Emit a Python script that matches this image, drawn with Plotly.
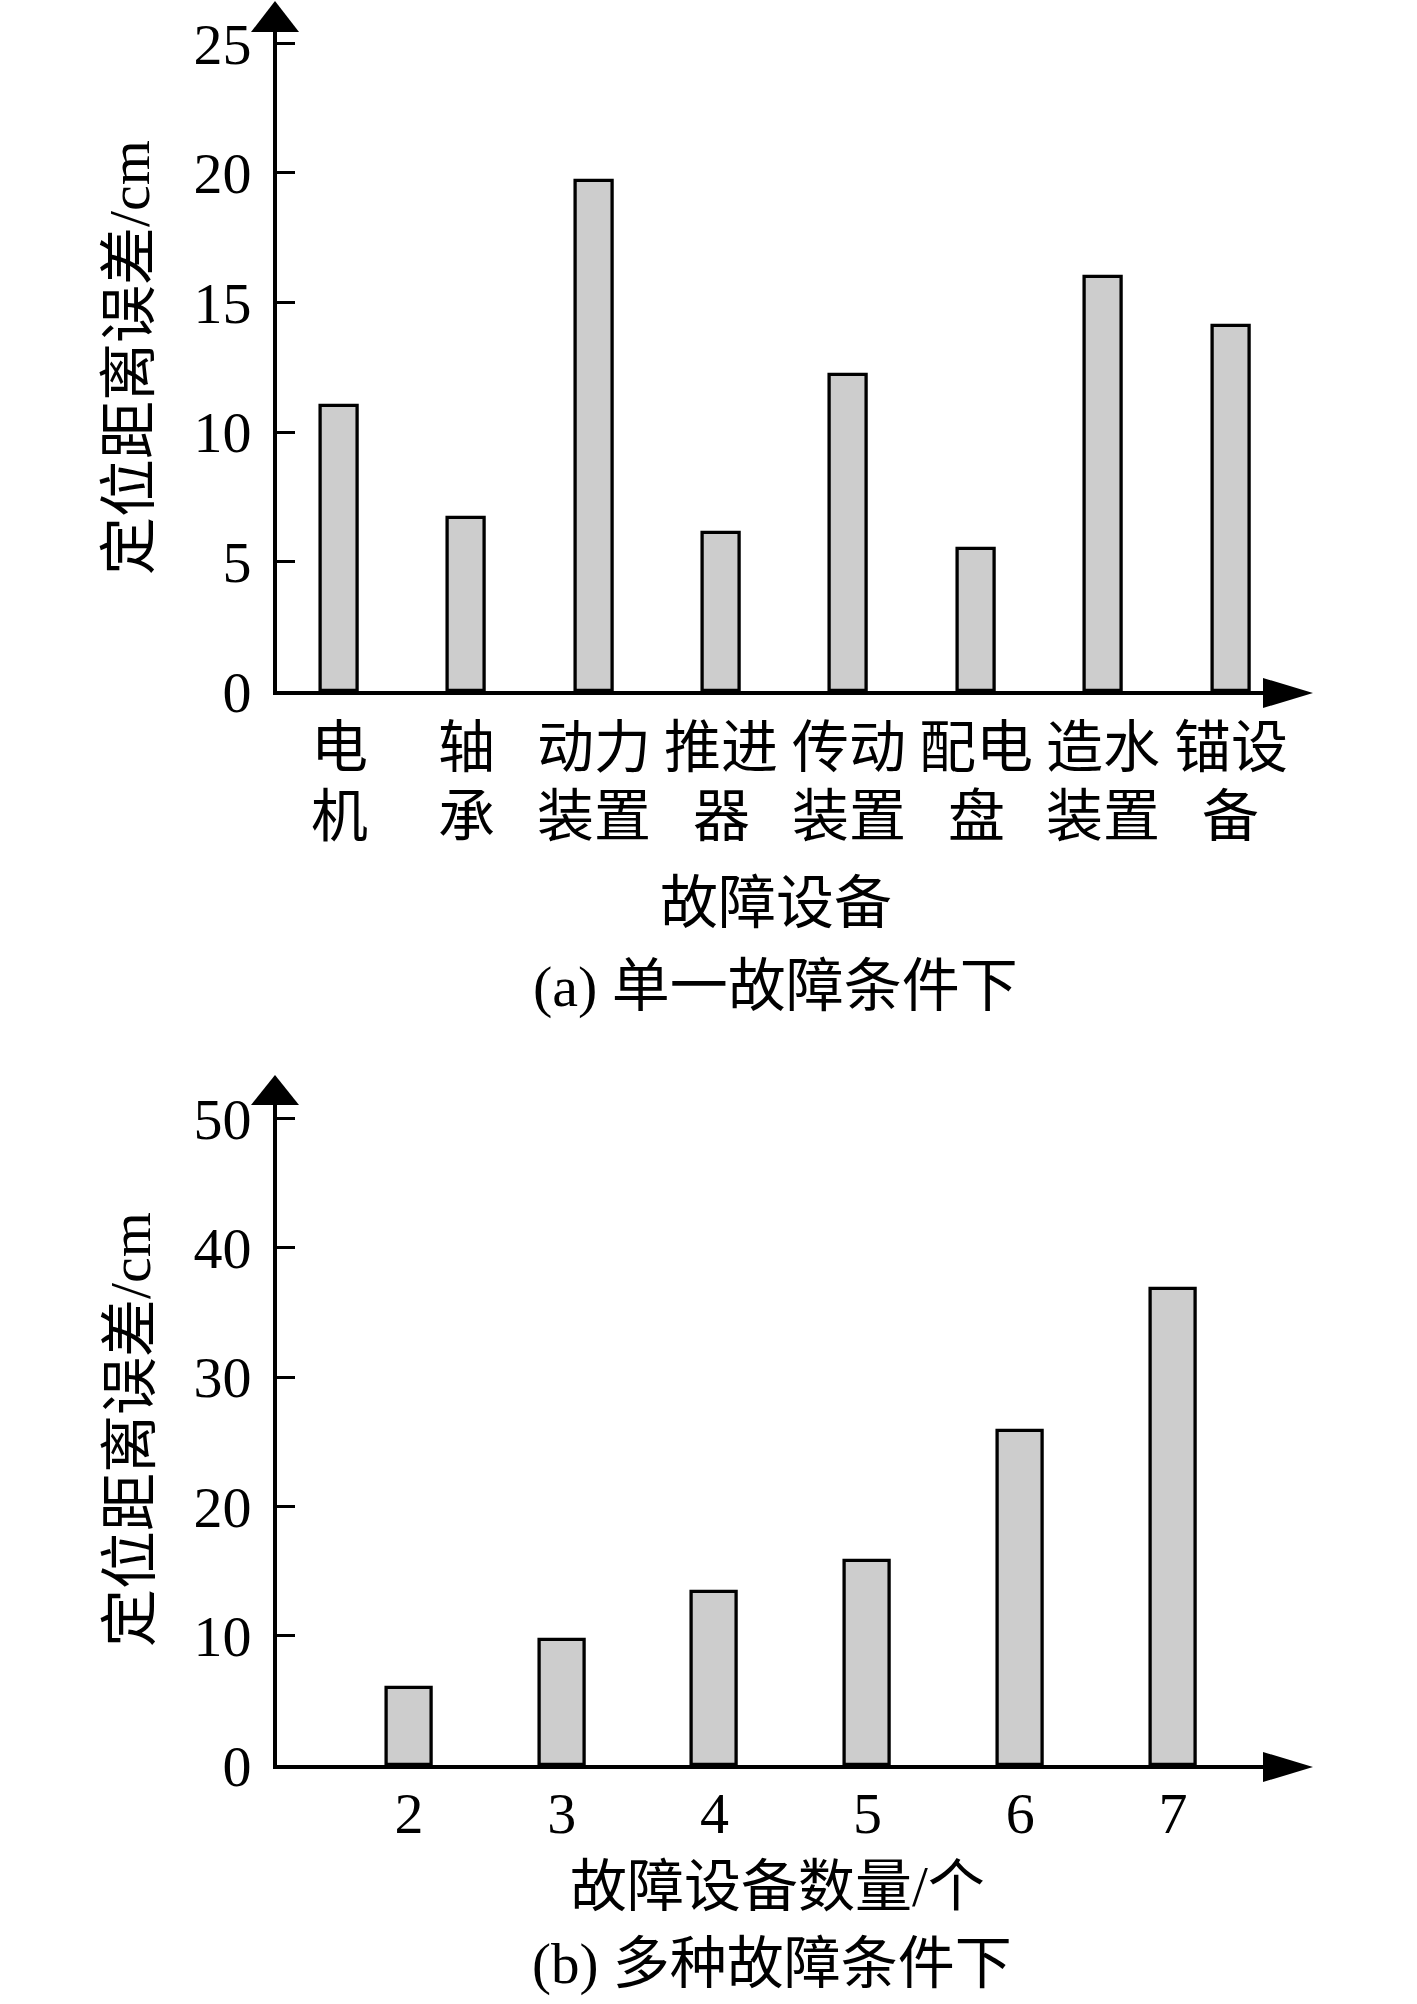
import plotly.graph_objects as go

W, H = 1417, 2004

# ---- data ----
cats_a = ["电机", "轴承", "动力装置", "推进器", "传动装置", "配电盘", "造水装置", "锚设备"]
cat_line1 = ["电", "轴", "动力", "推进", "传动", "配电", "造水", "锚设"]
cat_line2 = ["机", "承", "装置", "器", "装置", "盘", "装置", "备"]
vals_a = [11.0, 6.7, 19.7, 6.1, 12.2, 5.5, 16.0, 14.1]
yticks_a = [0, 5, 10, 15, 20, 25]

counts_b = [2, 3, 4, 5, 6, 7]
vals_b = [6.0, 9.7, 13.4, 15.8, 25.8, 36.8]
yticks_b = [0, 10, 20, 30, 40, 50]

title_y = "定位距离误差/cm"
xtitle_a = "故障设备"
caption_a = "(a) 单一故障条件下"
xtitle_b = "故障设备数量/个"
caption_b = "(b) 多种故障条件下"

# ---- styling / layout helpers (pixel -> paper) ----
FONT = "Liberation Serif, Times New Roman, Noto Sans CJK SC, serif"
BAR_FILL = "#cdcdcd"
LW = 3.5
HL = LW / 2


def px(x):
    return x / W


def py(y):
    return 1 - y / H


AX_L, AX_R = 275, 1265        # axis line position / extent (pixels)
ARROW_TIP_X = 1313

# panel a geometry
A_BASE, A_TOP = 693, 30
A_UNIT = 25.92                # px per cm
A_CAT0, A_CATSTEP = 339, 127.4
# panel b geometry
B_BASE, B_TOP = 1767, 1103
B_UNIT = 12.94
B_X0, B_STEP = 409, 152.8

DL = AX_L + HL                # domain left edge (axis line drawn outside)

fig = go.Figure()

fig.add_trace(go.Bar(
    x=cats_a, y=vals_a, width=0.29,
    marker=dict(color=BAR_FILL, line=dict(color="black", width=3.3)),
    xaxis="x", yaxis="y", showlegend=False, hoverinfo="skip"))

fig.add_trace(go.Bar(
    x=counts_b, y=vals_b, width=0.295,
    marker=dict(color=BAR_FILL, line=dict(color="black", width=3.3)),
    xaxis="x2", yaxis="y2", showlegend=False, hoverinfo="skip"))

common_x = dict(showline=True, linewidth=LW, linecolor="black", ticks="",
                showgrid=False, zeroline=False, automargin=False,
                tickfont=dict(family=FONT, size=58, color="black"))
common_y = dict(showline=True, linewidth=LW, linecolor="black", ticks="inside",
                ticklen=18, tickwidth=3, tickcolor="black",
                showgrid=False, zeroline=False, automargin=False,
                tickfont=dict(family=FONT, size=58, color="black"),
                ticklabelstandoff=10)

fig.update_layout(
    width=W, height=H, autosize=False,
    margin=dict(l=0, r=0, t=0, b=0),
    paper_bgcolor="white", plot_bgcolor="white",
    bargap=0,
    xaxis=dict(common_x, domain=[px(DL), px(AX_R)], anchor="y",
               type="category", categoryorder="array", categoryarray=cats_a,
               range=[(DL - A_CAT0) / A_CATSTEP, (AX_R - A_CAT0) / A_CATSTEP],
               showticklabels=False),
    yaxis=dict(common_y, domain=[py(A_BASE - HL), py(A_TOP)], anchor="x",
               range=[0, (A_BASE - HL - A_TOP) / A_UNIT], tickvals=yticks_a),
    xaxis2=dict(common_x, domain=[px(DL), px(AX_R)], anchor="y2",
                range=[counts_b[0] + (DL - B_X0) / B_STEP,
                       counts_b[0] + (AX_R - B_X0) / B_STEP],
                tickvals=counts_b, ticklabelstandoff=-6),
    yaxis2=dict(common_y, domain=[py(B_BASE - HL), py(B_TOP)], anchor="x2",
                range=[0, (B_BASE - HL - B_TOP) / B_UNIT], tickvals=yticks_b),
)


def tri(points):
    p = [f"{px(x)},{py(y)}" for x, y in points]
    return "M " + " L ".join(p) + " Z"


shapes = []
for tip_y, base_y, base in [(1, A_TOP, A_BASE), (1075, B_TOP, B_BASE)]:
    # up arrow on y axis
    shapes.append(dict(type="path", xref="paper", yref="paper",
                       path=tri([(AX_L, tip_y), (AX_L - 24, base_y + 2),
                                 (AX_L + 24, base_y + 2)]),
                       fillcolor="black", line=dict(width=0)))
    # right arrow on x axis
    shapes.append(dict(type="path", xref="paper", yref="paper",
                       path=tri([(ARROW_TIP_X, base), (AX_R - 2, base - 15),
                                 (AX_R - 2, base + 15)]),
                       fillcolor="black", line=dict(width=0)))
fig.update_layout(shapes=shapes)


def ann(text, x, y, size=54, angle=0):
    return dict(text=text, x=px(x), y=py(y), xref="paper", yref="paper",
                showarrow=False, xanchor="center", yanchor="middle",
                textangle=angle,
                font=dict(family=FONT, size=size, color="black"))


anns = [
    ann(title_y, 130, 358, size=58, angle=-90),
    ann(xtitle_a, 776, 903, size=58),
    ann(caption_a, 775, 986, size=58),
    ann(title_y, 130, 1430, size=58, angle=-90),
    ann(xtitle_b, 777, 1886, size=57),
    ann(caption_b, 772, 1964, size=57),
]
# category labels (two lines each) placed at the category positions
for cat, l1, l2 in zip(cats_a, cat_line1, cat_line2):
    for text, yy in [(l1, 747), (l2, 816)]:
        anns.append(dict(text=text, x=cat, xref="x", y=py(yy), yref="paper",
                         showarrow=False, xanchor="center", yanchor="middle",
                         font=dict(family=FONT, size=57, color="black")))
fig.update_layout(annotations=anns)

fig.write_html("out.html", config={"displayModeBar": False},
               post_script="document.body.style.margin='0px';")
